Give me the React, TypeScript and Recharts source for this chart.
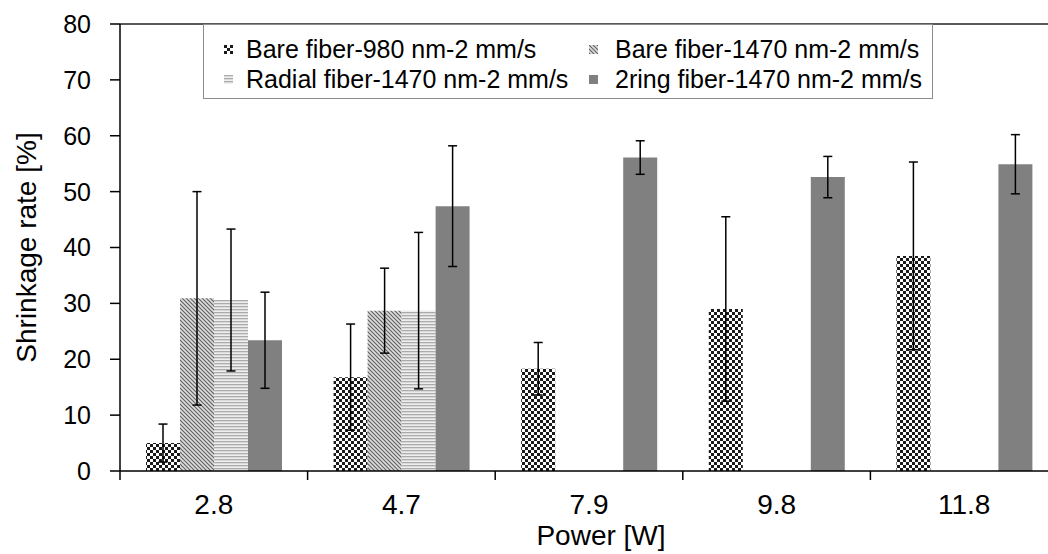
import { Bar, BarChart, ErrorBar, Legend, ReferenceLine, XAxis, YAxis } from "recharts";

const powers = ["2.8", "4.7", "7.9", "9.8", "11.8"];
const bare980 = [5.0, 16.8, 18.3, 29.0, 38.5];
const bare980Err = [3.4, 9.5, 4.7, 16.5, 16.8];
const bare1470 = [30.9, 28.7, 0, 0, 0];
const bare1470Err = [19.1, 7.6, 0, 0, 0];
const radial1470 = [30.6, 28.7, 0, 0, 0];
const radial1470Err = [12.7, 14.0, 0, 0, 0];
const ring1470 = [23.4, 47.4, 56.1, 52.6, 54.9];
const ring1470Err = [8.6, 10.8, 3.0, 3.7, 5.3];
const yTicks = [0, 10, 20, 30, 40, 50, 60, 70, 80];

const series = [
  { key: "bare980", name: "Bare fiber-980 nm-2 mm/s", fill: "url(#chk)" },
  { key: "bare1470", name: "Bare fiber-1470 nm-2 mm/s", fill: "url(#diag)" },
  { key: "radial1470", name: "Radial fiber-1470 nm-2 mm/s", fill: "url(#horiz)" },
  { key: "ring1470", name: "2ring fiber-1470 nm-2 mm/s", fill: "#808080" },
];

const data = powers.map((p, i) => ({
  power: p,
  bare980: bare980[i],
  bare980Err: bare980Err[i],
  bare1470: bare1470[i],
  bare1470Err: bare1470Err[i],
  radial1470: radial1470[i],
  radial1470Err: radial1470Err[i],
  ring1470: ring1470[i],
  ring1470Err: ring1470Err[i],
}));

const FONT = '"Liberation Sans", Arial, sans-serif';

const PowerTick = (props: any) => {
  const { x, y, payload } = props;
  const half = payload.offset ?? 0;
  return (
    <g>
      <line x1={x - half} x2={x - half} y1={y} y2={y + 9} stroke="#000" strokeWidth={1.5} />
      <text x={x} y={y + 43} textAnchor="middle" fontSize={28} fill="#000">
        {payload.value}
      </text>
    </g>
  );
};

// legend item spots: [icon left, text left, row centre]
const legendSpots = [
  [20, 42, 25],
  [385, 411, 25],
  [20, 42, 55],
  [385, 411, 55],
];

const renderLegend = () => (
  <div
    style={{
      position: "relative",
      boxSizing: "border-box",
      width: 730,
      height: 75,
      border: "1px solid #8c8c8c",
      background: "#fff",
      fontSize: 25,
      color: "#000",
    }}
  >
    {series.map((s, i) => {
      const [il, tl, cy] = legendSpots[i];
      return (
        <div key={s.key}>
          <svg width={9} height={9} style={{ position: "absolute", left: il, top: cy - 5 }}>
            <rect x={0} y={0} width={9} height={9} fill={s.fill} />
          </svg>
          <span style={{ position: "absolute", left: tl, top: cy - 15, lineHeight: "28px", whiteSpace: "nowrap" }}>
            {s.name}
          </span>
        </div>
      );
    })}
  </div>
);

const App = () => {
  return (
    <div
      style={{
        position: "absolute",
        left: 0,
        top: 0,
        width: 1048,
        height: 554,
        overflow: "hidden",
        background: "#fff",
        fontFamily: FONT,
      }}
    >
      <BarChart
        width={1070}
        height={554}
        data={data}
        margin={{ top: 24, right: 12, bottom: 0, left: 0 }}
        barGap={0}
      >
        <defs>
          <pattern id="chk" width={6} height={6} patternUnits="userSpaceOnUse">
            <rect width={6} height={6} fill="#fff" />
            <rect x={0} y={0} width={3} height={3} fill="#1a1a1a" />
            <rect x={3} y={3} width={3} height={3} fill="#1a1a1a" />
          </pattern>
          <pattern id="diag" width={4} height={4} patternUnits="userSpaceOnUse">
            <rect width={4} height={4} fill="#dcdcdc" />
            <path d="M-1,-1 L5,5 M3,-1 L5,1 M-1,3 L1,5" stroke="#606060" strokeWidth={1.1} />
          </pattern>
          <pattern id="horiz" width={4} height={3} patternUnits="userSpaceOnUse">
            <rect width={4} height={3} fill="#eeeeee" />
            <rect x={0} y={0} width={4} height={1.3} fill="#ababab" />
          </pattern>
        </defs>
        <XAxis
          dataKey="power"
          height={83}
          tickLine={false}
          tickSize={0}
          tickMargin={0}
          interval={0}
          axisLine={{ stroke: "#000", strokeWidth: 1.5 }}
          tick={<PowerTick />}
          label={{ value: "Power [W]", position: "insideBottom", offset: 9, dx: 12, fontSize: 28, fill: "#000" }}
        />
        <YAxis
          domain={[0, 80]}
          ticks={yTicks}
          interval={0}
          width={120}
          tickSize={10}
          tickMargin={19}
          axisLine={{ stroke: "#000", strokeWidth: 1.5 }}
          tickLine={{ stroke: "#000", strokeWidth: 1.5 }}
          tick={{ fontSize: 25, fill: "#000" }}
          label={{
            value: "Shrinkage rate [%]",
            angle: -90,
            position: "insideLeft",
            offset: 26,
            fontSize: 28,
            fill: "#000",
            style: { textAnchor: "middle" },
          }}
        />
        <ReferenceLine y={80} stroke="#222" strokeWidth={1.5} />
        <Legend
          content={renderLegend}
          layout="horizontal"
          verticalAlign="middle"
          align="center"
          wrapperStyle={{ top: 24, left: 203, width: 730, height: 75 }}
        />
        {series.map(s => (
          <Bar key={s.key} dataKey={s.key} name={s.name} fill={s.fill} barSize={34} isAnimationActive={false}>
            <ErrorBar dataKey={`${s.key}Err`} width={4.5} stroke="#000" strokeWidth={1.5} direction="y" />
          </Bar>
        ))}
      </BarChart>
    </div>
  );
};

export default App;
